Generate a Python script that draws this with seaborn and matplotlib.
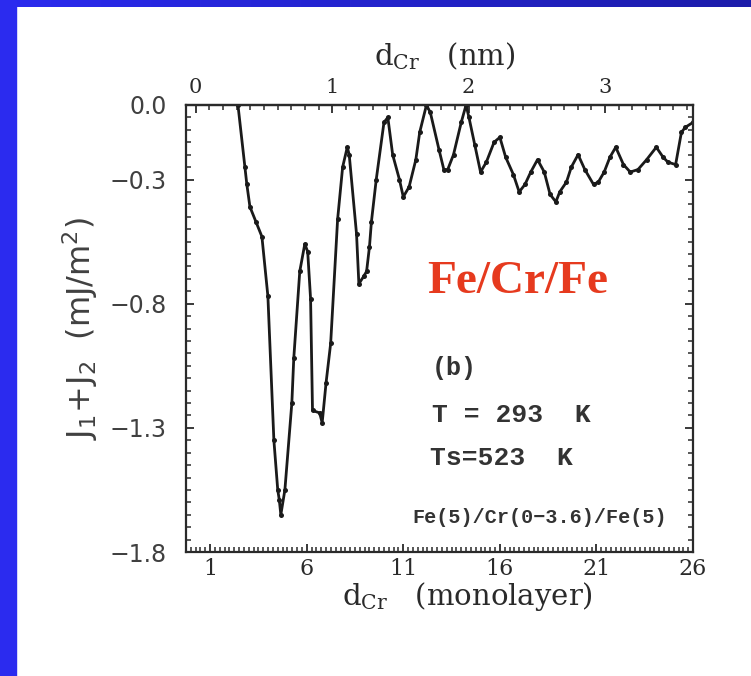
import matplotlib
matplotlib.use("Agg")
import matplotlib.pyplot as plt
import numpy as np
import pandas as pd
import seaborn as sns
from matplotlib.patches import Rectangle
from matplotlib.ticker import FixedLocator, FixedFormatter, MultipleLocator

# Cr spacer thickness (monolayers) and interlayer coupling J1+J2 (mJ/m^2)
ml = [2.44, 2.8, 2.9, 3.06, 3.37, 3.68, 3.99, 4.3, 4.5, 4.58, 4.66, 4.87,
      5.23, 5.33, 5.64, 5.9, 6.05, 6.2, 6.3, 6.67, 6.8, 7.0, 7.24, 7.6,
      7.86, 8.1, 8.2, 8.58, 8.7, 8.95, 9.1, 9.25, 9.35, 9.6, 10.0, 10.2,
      10.45, 10.8, 11.0, 11.3, 11.65, 11.85, 12.2, 12.4, 12.85, 13.1, 13.3,
      13.6, 14.0, 14.25, 14.4, 14.7, 15.0, 15.3, 15.7, 16.0, 16.3, 16.7,
      17.0, 17.3, 17.6, 17.95, 18.3, 18.6, 18.9, 19.1, 19.45, 19.7, 20.05,
      20.4, 20.85, 21.1, 21.4, 21.7, 22.0, 22.4, 22.75, 23.15, 23.6, 24.1,
      24.45, 24.7, 25.1, 25.4, 25.6, 26.0]
j12 = [0.0, -0.25, -0.32, -0.41, -0.47, -0.53, -0.77, -1.35, -1.55, -1.59,
       -1.65, -1.55, -1.2, -1.02, -0.67, -0.56, -0.59, -0.78, -1.23, -1.24,
       -1.28, -1.12, -0.96, -0.46, -0.25, -0.17, -0.2, -0.52, -0.72, -0.69,
       -0.67, -0.57, -0.47, -0.3, -0.07, -0.05, -0.2, -0.3, -0.37, -0.33,
       -0.22, -0.11, 0.0, -0.03, -0.18, -0.26, -0.26, -0.2, -0.07, 0.0,
       -0.05, -0.16, -0.27, -0.23, -0.15, -0.13, -0.21, -0.28, -0.35, -0.32,
       -0.27, -0.22, -0.27, -0.36, -0.39, -0.35, -0.31, -0.25, -0.2, -0.26,
       -0.32, -0.31, -0.27, -0.21, -0.17, -0.24, -0.27, -0.26, -0.22, -0.17,
       -0.21, -0.23, -0.24, -0.11, -0.09, -0.07]

x_ticks = [1, 6, 11, 16, 21, 26]
y_ticks = [-1.8, -1.3, -0.8, -0.3, 0.0]
y_tick_labels = ["\u22121.8", "\u22121.3", "\u22120.8", "\u22120.3", "0.0"]
nm_ticks = [0, 1, 2, 3]

NM_PER_ML = 0.1415
ML_OFFSET = 0.25


def to_nm(x):
    return (np.asarray(x) - ML_OFFSET) * NM_PER_ML


def to_ml(x):
    return np.asarray(x) / NM_PER_ML + ML_OFFSET


sns.set_style("ticks")
plt.rcParams["mathtext.fontset"] = "dejavuserif"

INK = "#2a2a2a"
W, H = 751, 676
fig = plt.figure(figsize=(W / 100, H / 100), dpi=100)
fig.patch.set_facecolor("white")

# blue slide frame (left bar + gradient top bar)
fig.patches.append(Rectangle((0, 0), 16 / W, 1, transform=fig.transFigure,
                             color="#2b2bef", zorder=0))
top = fig.add_axes([0, 1 - 7 / H, 1, 7 / H])
grad = np.linspace(0, 1, 256)[None, :, None]
c0 = np.array([43, 43, 239]) / 255
c1 = np.array([28, 28, 170]) / 255
top.imshow(c0 + (c1 - c0) * grad, aspect="auto")
top.axis("off")

ax = fig.add_axes([186 / W, 124 / H, 507 / W, 447 / H])
df = pd.DataFrame({"ml": ml, "j": j12})
sns.lineplot(data=df, x="ml", y="j", ax=ax, estimator=None, color="#1a1a1a",
             linewidth=2.0, marker="o", markersize=3.6, markeredgewidth=0)

ax.set_xlim(-0.25, 26)
ax.set_ylim(-1.8, 0.0)
ax.xaxis.set_major_locator(FixedLocator(x_ticks))
ax.xaxis.set_minor_locator(MultipleLocator(0.25))
ax.yaxis.set_major_locator(FixedLocator(y_ticks))
ax.yaxis.set_major_formatter(FixedFormatter(y_tick_labels))
ax.yaxis.set_minor_locator(MultipleLocator(0.05))

for s in ax.spines.values():
    s.set_visible(True)
    s.set_linewidth(1.6)
    s.set_color(INK)

ax.tick_params(axis="both", which="both", direction="in", color=INK,
               top=False, right=True)
ax.tick_params(which="major", length=6, width=1.3)
ax.tick_params(which="minor", length=3.5, width=1.1)
ax.tick_params(axis="y", labelsize=17, pad=14, labelcolor="#404040",
               labelfontfamily="DejaVu Sans")
ax.tick_params(axis="x", labelsize=16, pad=4, labelcolor=INK,
               labelfontfamily="DejaVu Serif")

secax = ax.secondary_xaxis("top", functions=(to_nm, to_ml))
secax.xaxis.set_major_locator(FixedLocator(nm_ticks))
secax.xaxis.set_minor_locator(MultipleLocator(0.1))
secax.tick_params(which="both", direction="in", color=INK)
secax.tick_params(which="major", length=6, width=1.3, labelsize=15, pad=6,
                  labelcolor=INK, labelfontfamily="DejaVu Serif")
secax.tick_params(which="minor", length=3.5, width=1.1)
secax.spines["top"].set_linewidth(1.6)
secax.spines["top"].set_color(INK)

secax.set_xlabel(r"d$_{\rm Cr}$   (nm)", fontsize=21, family="DejaVu Serif",
                 color=INK)
secax.xaxis.set_label_coords(0.511, 1.088, transform=ax.transAxes)
ax.set_xlabel(r"d$_{\rm Cr}$   (monolayer)", fontsize=21,
              family="DejaVu Serif", color=INK)
ax.xaxis.set_label_coords(0.556, -0.063)
ax.set_ylabel(r"$\mathsf{J_1\!+\!J_2\ \ (mJ/m^2)}$", fontsize=23,
              color="#404040")
ax.yaxis.set_label_coords(-0.17, 0.5)

ax.text(0.475, 0.579, "Fe/Cr/Fe", transform=ax.transAxes, fontsize=34,
        fontweight="bold", family="Liberation Serif", color="#e63a1e",
        ha="left", va="baseline")
mono = dict(transform=ax.transAxes, family="Liberation Mono", color="#333333",
            fontweight="bold", ha="left", va="center")
ax.text(0.485, 0.412, "(b)", fontsize=18, **mono)
ax.text(0.485, 0.306, "T = 293  K", fontsize=19, **mono)
ax.text(0.481, 0.21, "Ts=523  K", fontsize=19, **mono)
ax.text(0.949, 0.078, "Fe(5)/Cr(0\u22123.6)/Fe(5)", transform=ax.transAxes,
        fontsize=14.5, fontweight="bold", family="Liberation Mono",
        color="#333333", ha="right", va="center")

fig.savefig("out.png", dpi=100, facecolor=fig.get_facecolor())
